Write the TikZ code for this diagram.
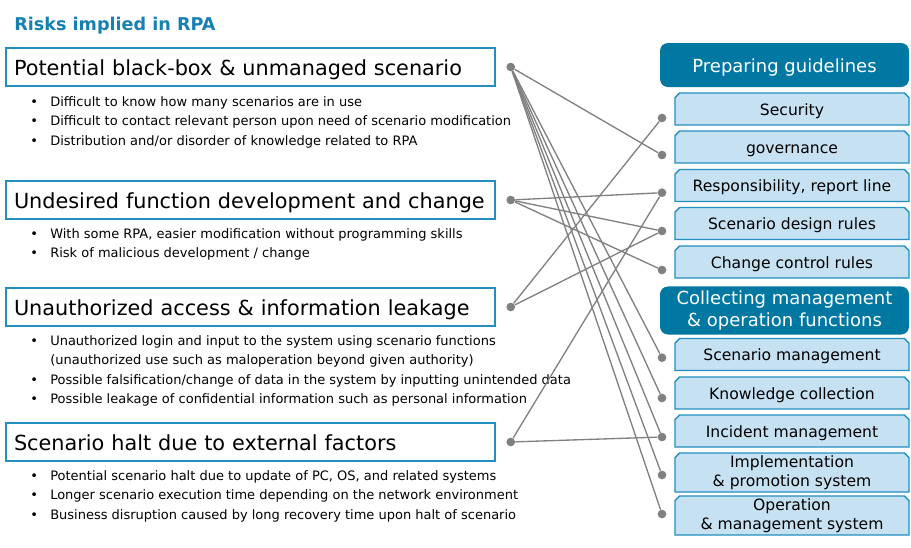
\documentclass[tikz,border=0pt]{standalone}
\usepackage{fontspec}
\setmainfont{DejaVu Sans}
\usepackage{xcolor}
\usetikzlibrary{backgrounds}
\definecolor{rpablue}{RGB}{22,128,178}
\definecolor{headteal}{RGB}{0,120,162}
\definecolor{boxline}{RGB}{35,142,192}
\definecolor{subfill}{RGB}{198,226,242}
\definecolor{wiregray}{RGB}{128,128,128}
\newcommand{\itm}{\makebox[15pt][l]{\textbullet}}

\begin{document}
\begin{tikzpicture}[x=0.75pt, y=-0.75pt,
    riskbox/.style={draw=boxline, line width=1.1pt, fill=white, minimum width=366.75pt, minimum height=28.5pt, text width=354.75pt, text height=17pt, text depth=3.7pt, inner xsep=6pt, align=left, font=\fontsize{15.6}{18}\selectfont},
    bullets/.style={anchor=north west, inner sep=0pt, align=left, font=\fontsize{9.75}{14.4}\selectfont},
    headbox/.style={fill=headteal, rounded corners=6pt, text=white, minimum width=186.75pt, minimum height=33pt, align=center, font=\fontsize{13.5}{16.3}\selectfont},
    subbox/.style={outer sep=0pt, inner ysep=1pt, minimum width=175.5pt, minimum height=24pt, align=center, font=\fontsize{11.7}{14.25}\selectfont},
    oneline/.style={text height=11.9pt, text depth=2.8pt},
    subframe/.style={draw=boxline, fill=subfill, line width=1.1pt},
    dot/.style={circle, fill=wiregray, inner sep=0pt, minimum size=6.5pt},
    wire/.style={draw=wiregray, line width=1pt}]
    \useasboundingbox (0,0) rectangle (911,547);

    % risks
    \node[anchor=west, inner sep=0pt, text=rpablue, font=\fontsize{13.2}{16}\selectfont\bfseries] (title) at (14,26) {Risks implied in RPA};
    \node[riskbox] (r1) at (250.5,67) {Potential black-box \& unmanaged scenario};
    \node[riskbox] (r2) at (250.5,200) {Undesired function development and change};
    \node[riskbox] (r3) at (250.5,307) {Unauthorized access \& information leakage};
    \node[riskbox] (r4) at (250.5,442) {Scenario halt due to external factors};

    \node[bullets] (b1) at (30,96.5) {\itm Difficult to know how many scenarios are in use\\
        \itm Difficult to contact relevant person upon need of scenario modification\\
        \itm Distribution and/or disorder of knowledge related to RPA};
    \node[bullets] (b2) at (30,228.5) {\itm With some RPA, easier modification without programming skills\\
        \itm Risk of malicious development / change};
    \node[bullets] (b3) at (30,335.5) {\itm Unauthorized login and input to the system using scenario functions\\
        \hspace*{15pt}(unauthorized use such as maloperation beyond given authority)\\
        \itm Possible falsification/change of data in the system by inputting unintended data\\
        \itm Possible leakage of confidential information such as personal information};
    \node[bullets] (b4) at (30,470.5) {\itm Potential scenario halt due to update of PC, OS, and related systems\\
        \itm Longer scenario execution time depending on the network environment\\
        \itm Business disruption caused by long recovery time upon halt of scenario};

    % countermeasures
    \node[headbox, text height=14pt, text depth=3.2pt] (h1) at (784.5,65) {Preparing guidelines};
    \node[subbox, oneline] (s1) at (792,109) {Security};
    \node[subbox, oneline] (s2) at (792,147) {governance};
    \node[subbox, oneline] (s3) at (792,185.5) {Responsibility, report line};
    \node[subbox, oneline] (s4) at (792,223.5) {Scenario design rules};
    \node[subbox, oneline] (s5) at (792,262) {Change control rules};
    \node[headbox] (h2) at (784.5,310.5) {Collecting management\\\& operation functions};
    \node[subbox, oneline] (c1) at (792,354.5) {Scenario management};
    \node[subbox, oneline] (c2) at (792,393) {Knowledge collection};
    \node[subbox, oneline] (c3) at (792,431) {Incident management};
    \node[subbox, minimum height=29.25pt] (c4) at (792,472.5) {Implementation\\\& promotion system};
    \node[subbox, minimum height=29.25pt] (c5) at (792,515.5) {Operation\\\& management system};

    % frames with cut top corners
    \begin{scope}[on background layer]
        \foreach \n in {s1,s2,s3,s4,s5,c1,c2,c3,c4,c5}
            \draw[subframe] (\n.south west) -- ([yshift=-3.5pt]\n.north west) -- ([xshift=3.5pt]\n.north west)
                -- ([xshift=-3.5pt]\n.north east) -- ([yshift=-3.5pt]\n.north east) -- (\n.south east) -- cycle;
    \end{scope}

    % dots
    \node[dot] (p1) at ([xshift=11.25pt]r1.east) {};
    \node[dot] (p2) at ([xshift=11.25pt]r2.east) {};
    \node[dot] (p3) at ([xshift=11.25pt]r3.east) {};
    \node[dot] (p4) at ([xshift=11.25pt]r4.east) {};
    \node[dot] (q1) at (662,118) {};
    \node[dot] (q2) at (662,155) {};
    \node[dot] (q3) at (662,192.7) {};
    \node[dot] (q4) at (662,231) {};
    \node[dot] (q5) at (662,270) {};
    \node[dot] (q6) at (662,357.7) {};
    \node[dot] (q7) at (662,398) {};
    \node[dot] (q8) at (662,437) {};
    \node[dot] (q9) at (662,475) {};
    \node[dot] (q10) at (662,514) {};

    \foreach \t in {q2,q6,q7,q8,q9,q10} \draw[wire] (p1) -- (\t);
    \foreach \t in {q3,q4,q5} \draw[wire] (p2) -- (\t);
    \foreach \t in {q1,q4} \draw[wire] (p3) -- (\t);
    \foreach \t in {q3,q8} \draw[wire] (p4) -- (\t);
\end{tikzpicture}
\end{document}
